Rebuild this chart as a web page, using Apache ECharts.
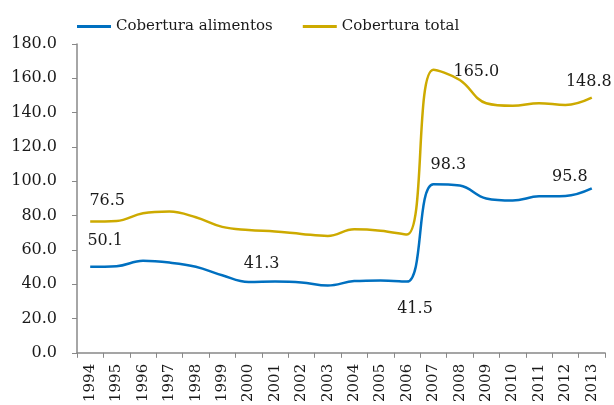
<!DOCTYPE html>
<html>
<head>
<meta charset="utf-8">
<script src="https://cdn.jsdelivr.net/npm/echarts@6/dist/echarts.min.js"></script>
<style>
html, body { margin: 0; padding: 0; background: #fff; }
#main { width: 614px; height: 405px; }
</style>
</head>
<body>
<div id="main"></div>
<script>
//年份
var years = ['1994', '1995', '1996', '1997', '1998', '1999', '2000', '2001', '2002', '2003',
    '2004', '2005', '2006', '2007', '2008', '2009', '2010', '2011', '2012', '2013'];
//Cobertura alimentos
var alimentos = [50.1, 50.5, 53.6, 52.6, 50.2, 45.2, 41.3, 41.5, 41.0, 39.2,
    41.8, 42.2, 41.5, 98.3, 97.5, 90.0, 88.8, 91.2, 91.4, 95.8];
//Cobertura total
var total = [76.5, 76.8, 81.3, 82.3, 79.0, 73.4, 71.6, 70.7, 69.3, 68.1,
    72.0, 71.2, 69.0, 165.0, 159.0, 145.5, 144.0, 145.5, 144.5, 148.8];
//y轴刻度
var yTicks = [0, 20, 40, 60, 80, 100, 120, 140, 160, 180];

var serifFont = 'DejaVu Serif';

//需要显示标签的点: 索引 -> 偏移
var alimentosLabels = {0: [15, -26], 6: [13, -18], 12: [8, 27], 13: [15, -19], 19: [-22, -12]};
var totalLabels = {0: [17, -21], 13: [43, 2], 19: [-3, -16]};

//生成带标签的数据
function buildData(values, labels) {
    var data = [];
    for (var i = 0; i < values.length; i++) {
        var item = {value: values[i]};
        if (labels.hasOwnProperty(i)) {
            item.label = {
                show: true,
                position: 'inside',
                offset: labels[i],
                formatter: function(p) { return p.value.toFixed(1); },
                color: '#1a1a1a',
                fontFamily: serifFont,
                fontSize: 16
            };
        }
        data.push(item);
    }
    return data;
}

var myChart = echarts.init(document.getElementById('main'));
var option = {
    animation: false,
    textStyle: {fontFamily: serifFont},
    legend: {
        left: 72,
        top: 14,
        icon: 'rect',
        itemWidth: 34,
        itemHeight: 3,
        itemGap: 30,
        textStyle: {fontFamily: serifFont, fontSize: 15, color: '#1a1a1a'},
        data: ['Cobertura alimentos', 'Cobertura total']
    },
    grid: {left: 77, right: 9, top: 44, bottom: 52},
    xAxis: {
        type: 'category',
        data: years,
        boundaryGap: true,
        axisLine: {lineStyle: {color: '#888', width: 1.5}},
        axisTick: {show: true, length: 5, lineStyle: {color: '#888'}},
        axisLabel: {rotate: 90, color: '#1a1a1a', fontFamily: serifFont, fontSize: 15, margin: 11, interval: 0}
    },
    yAxis: {
        type: 'value',
        min: yTicks[0],
        max: yTicks[yTicks.length - 1],
        interval: 20,
        splitLine: {show: false},
        axisLine: {show: true, lineStyle: {color: '#888', width: 1.5}},
        axisTick: {show: true, length: 5, lineStyle: {color: '#888'}},
        axisLabel: {
            color: '#1a1a1a', fontFamily: serifFont, fontSize: 16, margin: 20,
            formatter: function(v) { return v.toFixed(1); }
        }
    },
    series: [{
        name: 'Cobertura alimentos',
        type: 'line',
        smooth: 0.4,
        showSymbol: true,
        symbol: 'circle',
        symbolSize: 0,
        color: '#0070C0',
        lineStyle: {width: 2.5, color: '#0070C0'},
        data: buildData(alimentos, alimentosLabels)
    }, {
        name: 'Cobertura total',
        type: 'line',
        smooth: 0.4,
        showSymbol: true,
        symbol: 'circle',
        symbolSize: 0,
        color: '#CDAA00',
        lineStyle: {width: 2.5, color: '#CDAA00'},
        data: buildData(total, totalLabels)
    }]
};
myChart.setOption(option);
</script>
</body>
</html>
